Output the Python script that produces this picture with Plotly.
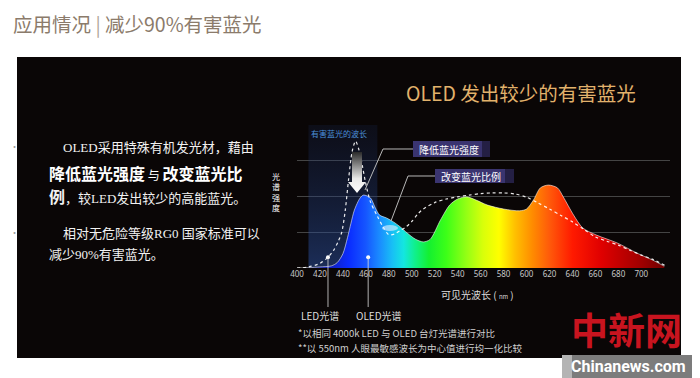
import plotly.graph_objects as go

# ---------------- data ----------------
OLED_NM = [400, 410, 420, 430, 435, 440, 444, 447, 450, 455, 458, 464, 468, 472, 478, 484, 490, 496,
           503, 510, 516, 525, 533, 540, 548, 556, 566, 580, 594, 600, 606, 612, 619, 627, 632, 641,
           649, 661, 679, 696, 710, 720]
OLED_VAL = [0.0, 0.01, 0.03, 0.06, 0.15, 0.4, 0.85, 1.25, 1.62, 1.96, 2.04, 1.96, 1.7, 1.48, 1.4, 1.29,
            1.15, 0.98, 0.81, 0.73, 0.8, 1.34, 1.76, 1.93, 1.99, 1.9, 1.76, 1.65, 1.6, 1.65, 1.9, 2.24,
            2.32, 2.24, 1.99, 1.48, 1.12, 0.92, 0.7, 0.42, 0.22, 0.05]

LED_NM = [400, 410, 420, 427, 432, 436, 439, 442, 445, 448, 451, 454, 457, 460, 464, 470, 475, 480,
          485, 490, 495, 500, 505, 510, 520, 530, 540, 550, 560, 570, 580, 590, 600, 610, 620, 630,
          640, 650, 660, 670, 680, 690, 700, 710, 722]
LED_VAL = [0.0, 0.03, 0.13, 0.3, 0.5, 0.75, 1.0, 1.6, 2.5, 3.25, 3.55, 3.3, 2.85, 2.35, 1.85, 1.45,
           1.15, 0.93, 0.95, 1.05, 1.15, 1.3, 1.5, 1.65, 1.83, 1.93, 1.99, 2.04, 2.08, 2.1, 2.1, 2.07,
           1.98, 1.82, 1.65, 1.47, 1.29, 1.08, 0.87, 0.75, 0.64, 0.5, 0.36, 0.24, 0.05]

SPECTRUM_NM = [400, 430, 445, 460, 472, 483, 493, 503, 515, 530, 548, 562, 576, 590, 605, 620, 640, 665, 700, 720]
SPECTRUM_COLORS = ["#101060", "#1020c0", "#0a2cff", "#1656ff", "#1a8cff", "#18bff5", "#14e6e0",
                   "#10f08a", "#14f030", "#3cff18", "#96ff14", "#d8ff0a", "#ffff00", "#ffc000",
                   "#ff8c00", "#ff5a0a", "#ff1a00", "#e00000", "#a00000", "#700000"]

X_TICKS = list(range(400, 701, 20))
HARMFUL_BAND = [410, 470]
POINTER_NM = [427, 462]
POINTER_VAL = [0.3, 0.3]
POINTER_LABELS = ["LED光谱", "OLED光谱"]

# ---------------- geometry helpers ----------------
W, H = 700, 378
L, R, T, B = 297, 30, 125, 110
XR = [400, 725]
YR = [0, 4]

def PX(px):
    return (px - L) / (W - L - R)

def PY(py):
    return (H - B - py) / (H - T - B)

def nm(px):
    return XR[0] + (px - L) * (XR[1] - XR[0]) / (W - L - R)

def val(py):
    return YR[0] + (H - B - py) * (YR[1] - YR[0]) / (H - T - B)

CJK = "Noto Sans CJK SC, Noto Sans, sans-serif"
SERIF = "Liberation Serif, Noto Sans CJK SC, serif"

fig = go.Figure()

# harmful blue band
fig.add_trace(go.Scatter(
    x=[HARMFUL_BAND[0], HARMFUL_BAND[0], HARMFUL_BAND[1], HARMFUL_BAND[1]],
    y=[0, YR[1], YR[1], 0], fill="toself", mode="lines", line=dict(width=0),
    fillgradient=dict(type="vertical", colorscale=[[0, "rgba(45,85,170,0.5)"], [1, "rgba(25,45,95,0.2)"]]),
    hoverinfo="skip", showlegend=False))

# OLED spectrum rainbow fill
span = SPECTRUM_NM[-1] - SPECTRUM_NM[0]
cscale = [[(n - SPECTRUM_NM[0]) / span, c] for n, c in zip(SPECTRUM_NM, SPECTRUM_COLORS)]
fig.add_trace(go.Scatter(
    x=OLED_NM, y=OLED_VAL, mode="lines", fill="tozeroy",
    line=dict(color="rgba(255,255,255,0.55)", width=1, shape="spline", smoothing=0.8),
    fillgradient=dict(type="horizontal", colorscale=cscale, start=SPECTRUM_NM[0], stop=SPECTRUM_NM[-1]),
    hoverinfo="skip", showlegend=False))

# LED dotted spectrum
fig.add_trace(go.Scatter(
    x=LED_NM, y=LED_VAL, mode="lines",
    line=dict(color="rgba(255,255,255,0.9)", width=1.2, dash="dot", shape="spline", smoothing=0.8),
    hoverinfo="skip", showlegend=False))

# gradient arrow (decoration)
ax = [nm(352), nm(362), nm(362), nm(366), nm(357), nm(348), nm(352), nm(352)]
ay = [val(152), val(152), val(182), val(182), val(193), val(182), val(182), val(152)]
fig.add_trace(go.Scatter(
    x=ax, y=ay, mode="lines", fill="toself", line=dict(width=0),
    fillgradient=dict(type="vertical", colorscale=[[0, "#ffffff"], [0.35, "#e8e8e8"], [1, "#2a2a2a"]]),
    hoverinfo="skip", showlegend=False))

# pointer dots
fig.add_trace(go.Scatter(
    x=POINTER_NM, y=POINTER_VAL, mode="markers",
    marker=dict(color="white", size=4), hoverinfo="skip", showlegend=False))

shapes = []
# black panel
shapes.append(dict(type="rect", xref="paper", yref="paper", x0=PX(17), x1=PX(681), y0=PY(358), y1=PY(57),
                   fillcolor="#0a0606", line=dict(width=0), layer="below"))
# pointer lines
for n, v in zip(POINTER_NM, POINTER_VAL):
    shapes.append(dict(type="line", xref="x", yref="paper", x0=n, x1=n, y0=v / YR[1], y1=PY(307),
                       line=dict(color="rgba(220,220,220,0.8)", width=1)))
# callout boxes
shapes.append(dict(type="rect", xref="paper", yref="paper", x0=PX(413), x1=PX(482), y0=PY(157), y1=PY(141),
                   fillcolor="#3a3470", line=dict(width=0)))
shapes.append(dict(type="rect", xref="paper", yref="paper", x0=PX(482), x1=PX(490), y0=PY(157), y1=PY(141),
                   fillcolor="#241f44", line=dict(width=0)))
shapes.append(dict(type="rect", xref="paper", yref="paper", x0=PX(435), x1=PX(505), y0=PY(183), y1=PY(169),
                   fillcolor="#3a3470", line=dict(width=0)))
shapes.append(dict(type="rect", xref="paper", yref="paper", x0=PX(505), x1=PX(514), y0=PY(183), y1=PY(169),
                   fillcolor="#241f44", line=dict(width=0)))
# leader lines
def path(pts):
    return "M " + " L ".join(f"{PX(a):.4f},{PY(b):.4f}" for a, b in pts)
shapes.append(dict(type="path", xref="paper", yref="paper", path=path([(413, 149), (383, 149), (365, 190)]),
                   line=dict(color="#b8b8b8", width=1)))
shapes.append(dict(type="path", xref="paper", yref="paper", path=path([(435, 176), (408, 176), (391, 221)]),
                   line=dict(color="#b8b8b8", width=1)))
# glow blob
shapes.append(dict(type="circle", xref="paper", yref="paper", x0=PX(382), x1=PX(398), y0=PY(231), y1=PY(225),
                   fillcolor="rgba(230,240,255,0.6)", line=dict(width=0)))
# watermark bar
shapes.append(dict(type="rect", xref="paper", yref="paper", x0=PX(562), x1=PX(572), y0=PY(378), y1=PY(355),
                   fillcolor="#b4b4b4", line=dict(width=0)))
shapes.append(dict(type="rect", xref="paper", yref="paper", x0=PX(572), x1=PX(692), y0=PY(378), y1=PY(355),
                   fillcolor="#7c7c7c", line=dict(width=0)))

anns = []
def ann(text, x, y, size, color, xanchor="left", family=CJK, yanchor="middle", **kw):
    anns.append(dict(text=text, x=PX(x), y=PY(y), xref="paper", yref="paper", showarrow=False,
                     xanchor=xanchor, yanchor=yanchor, font=dict(size=size, color=color, family=family), **kw))

ann("应用情况 <span style='color:#b0a598'>|</span> 减少90%有害蓝光", 11, 23, 19.5, "#8b7b6b")
ann("OLED 发出较少的有害蓝光", 404, 92, 19.5, "#e2b26c")

ann("•", 8, 146, 9, "#9a9a9a")
ann("•", 8, 232, 9, "#9a9a9a")
ann("OLED采用特殊有机发光材，藉由", 61, 147, 13, "#f2f2f2", family=SERIF)
ann("<b>降低蓝光强度</b><span style='font-size:12px'> 与 </span><b>改变蓝光比</b>", 47, 173, 16, "#ffffff")
ann("<b>例</b><span style='font-size:13px'>，较LED发出较少的高能蓝光。</span>", 47, 197, 16, "#f2f2f2", family=SERIF)
ann("相对无危险等级RG0 国家标准可以", 61, 233, 13, "#f2f2f2", family=SERIF)
ann("减少90%有害蓝光。", 47, 254, 13, "#f2f2f2", family=SERIF)

ann("有害蓝光的波长", 309, 133, 8, "#4b90d8")
ann("降低蓝光强度", 417, 149, 10, "#ffffff")
ann("改变蓝光比例", 439, 176, 10, "#ffffff")
ann("光<br>谱<br>强<br>度", 276, 192, 8, "#ffffff", xanchor="center")
ann("可见光波长 ( <span style='font-size:6px'>nm</span> )", 477, 294, 10, "#dddddd", xanchor="center")
for n, lab, cx in zip(POINTER_NM, POINTER_LABELS, [320, 379]):
    ann(lab, cx, 315, 10, "#dddddd", xanchor="center")
ann("*以相同 4000k LED 与 OLED 台灯光谱进行对比", 296, 333, 9.5, "#d0d0d0")
ann("**以 550nm 人眼最敏感波长为中心值进行均一化比较", 296, 348, 9.5, "#d0d0d0")

ann("<b>中新网</b>", 626, 329, 37, "#c8141f", xanchor="center")
ann("<b>Chinanews.com</b>", 628, 366, 16, "#ffffff", xanchor="center",
    family="Liberation Sans Narrow, Roboto, sans-serif")

fig.update_layout(
    width=W, height=H, margin=dict(l=L, r=R, t=T, b=B),
    paper_bgcolor="white", plot_bgcolor="#0a0606",
    shapes=shapes, annotations=anns, showlegend=False,
    xaxis=dict(range=XR, tickvals=X_TICKS, ticks="", showgrid=False, zeroline=False, showline=False,
               tickfont=dict(size=8, color="#c8c8c8", family="Noto Sans, sans-serif"), fixedrange=True),
    yaxis=dict(range=YR, tickvals=[0, 1, 2, 3, 4], showticklabels=False, ticks="", showgrid=True,
               gridcolor="#444444", gridwidth=1, zeroline=False, showline=False, fixedrange=True),
)

fig.write_html("out.html", config={"displayModeBar": False},
               post_script="document.body.style.margin='0';document.body.style.overflow='hidden';")
